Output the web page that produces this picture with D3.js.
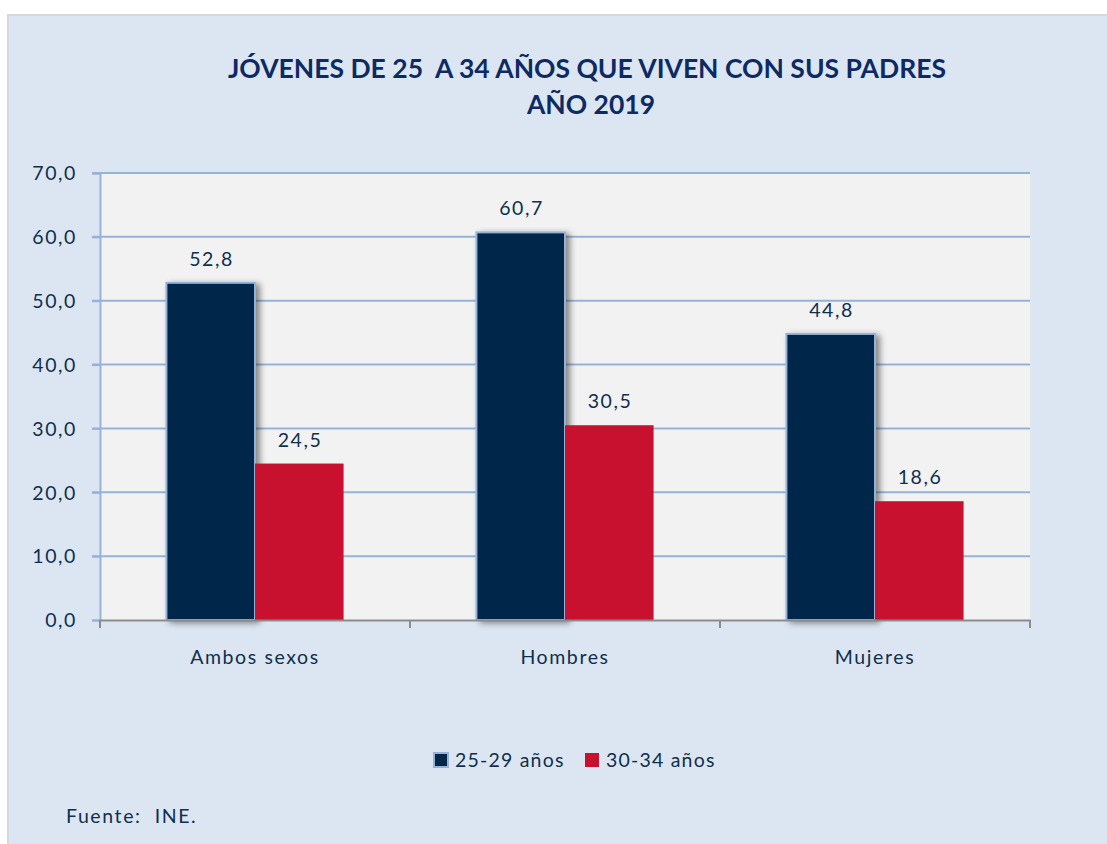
<!DOCTYPE html>
<html>
<head>
<meta charset="utf-8">
<script src="https://cdn.jsdelivr.net/npm/d3@7"></script>
<style>
  body { margin: 0; background: #fff; }
  text { font-family: Lato, "Open Sans", sans-serif; fill: #0f2f4f; white-space: pre; }
</style>
</head>
<body>
<div id="chart"></div>
<script>
// data
const categories = ["Ambos sexos", "Hombres", "Mujeres"];
const seriesNames = ["25-29 años", "30-34 años"];
const values2529 = [52.8, 60.7, 44.8];
const values3034 = [24.5, 30.5, 18.6];
const yTicks = [0, 10, 20, 30, 40, 50, 60, 70];

const width = 1107;
const height = 844;
const colors = ["#012849", "#c8102f"];
const fs = 19.5;
const ls = 1.6;

const svg = d3.select("#chart")
    .append("svg")
    .attr("width", width)
    .attr("height", height);

// shadow for the dark bars
const defs = svg.append("defs");
defs.append("filter")
    .attr("id", "shadow")
    .attr("x", "-20%").attr("y", "-20%")
    .attr("width", "150%").attr("height", "140%")
  .append("feDropShadow")
    .attr("dx", 4).attr("dy", 2)
    .attr("stdDeviation", 3)
    .attr("flood-color", "#000")
    .attr("flood-opacity", 0.45);

// outer chart area
svg.append("rect")
    .attr("x", 8).attr("y", 15)
    .attr("width", width).attr("height", height)
    .attr("fill", "#dce6f2")
    .attr("stroke", "#d9d9d9")
    .attr("stroke-width", 2);

const plot = { left: 100, top: 173, right: 1030, bottom: 620 };

const x0 = d3.scaleBand()
    .domain(categories)
    .range([plot.left, plot.right])
    .paddingInner(0)
    .paddingOuter(0);

// gap width 150% -> bars take 2/3.5 of the band
const barW = x0.bandwidth() / 3.5;
const x1 = d3.scaleBand()
    .domain([0, 1])
    .range([barW * 0.75, barW * 2.75]);

const y = d3.scaleLinear()
    .domain([0, 70])
    .range([plot.bottom, plot.top]);

// plot background
svg.append("rect")
    .attr("x", plot.left).attr("y", plot.top)
    .attr("width", plot.right - plot.left)
    .attr("height", plot.bottom - plot.top)
    .attr("fill", "#f2f2f2");

// gridlines
svg.append("g")
  .selectAll("line")
  .data(yTicks.filter(d => d > 0))
  .join("line")
    .attr("x1", plot.left - 8).attr("x2", plot.right)
    .attr("y1", d => y(d)).attr("y2", d => y(d))
    .attr("stroke", "#95b3d7")
    .attr("stroke-width", 2);

// y axis
const yAxis = svg.append("g")
    .attr("transform", `translate(${plot.left},0)`)
    .call(d3.axisLeft(y)
      .tickValues(yTicks)
      .tickSize(8)
      .tickPadding(15)
      .tickFormat(d => d3.format(".1f")(d).replace(".", ",")));
yAxis.select(".domain").attr("stroke", "#95b3d7").attr("stroke-width", 2);
yAxis.selectAll(".tick line").attr("stroke", "#95b3d7").attr("stroke-width", 2);
yAxis.selectAll(".tick text")
    .attr("font-size", fs)
    .attr("letter-spacing", ls)
    .attr("dy", "0.35em")
    .style("fill", "#0f2f4f");

// bars
const data = categories.map((c, i) => ({ cat: c, vals: [values2529[i], values3034[i]] }));

const groups = svg.append("g")
  .selectAll("g")
  .data(data)
  .join("g")
    .attr("transform", d => `translate(${x0(d.cat)},0)`);

groups.selectAll("rect")
  .data(d => d.vals.map((v, k) => ({ v, k })))
  .join("rect")
    .attr("x", d => x1(d.k))
    .attr("y", d => y(d.v))
    .attr("width", x1.bandwidth())
    .attr("height", d => y(0) - y(d.v))
    .attr("fill", d => colors[d.k])
    .attr("stroke", d => d.k === 0 ? "#95b3d7" : "none")
    .attr("stroke-width", 2)
    .attr("filter", d => d.k === 0 ? "url(#shadow)" : null);

groups.selectAll("text.val")
  .data(d => d.vals.map((v, k) => ({ v, k })))
  .join("text")
    .attr("class", "val")
    .attr("x", d => x1(d.k) + x1.bandwidth() / 2 + ls / 2)
    .attr("y", d => y(d.v) - 17)
    .attr("text-anchor", "middle")
    .attr("font-size", fs)
    .attr("letter-spacing", ls)
    .text(d => d3.format(".1f")(d.v).replace(".", ","));

// x axis
const xAxis = svg.append("g")
    .attr("transform", `translate(0,${plot.bottom})`)
    .call(d3.axisBottom(x0).tickSize(0).tickPadding(30));
xAxis.select(".domain").attr("stroke", "#8c8c8c").attr("stroke-width", 2);
xAxis.selectAll(".tick text")
    .attr("font-size", fs)
    .attr("letter-spacing", ls)
    .style("fill", "#0f2f4f");
xAxis.append("g")
  .selectAll("line")
  .data(categories.map(c => x0(c)).concat([plot.right]))
  .join("line")
    .attr("x1", d => d).attr("x2", d => d)
    .attr("y1", 0).attr("y2", 8)
    .attr("stroke", "#8c8c8c")
    .attr("stroke-width", 2);

// title
const title = svg.append("text")
    .attr("text-anchor", "middle")
    .attr("font-weight", "bold")
    .attr("font-size", 26.5)
    .style("fill", "#0d2a63");
title.append("tspan").attr("x", 587).attr("y", 78).text("JÓVENES DE 25  A 34 AÑOS QUE VIVEN CON SUS PADRES");
title.append("tspan").attr("x", 591).attr("y", 114).text("AÑO 2019");

// legend
const legend = svg.append("g")
  .selectAll("g")
  .data(seriesNames)
  .join("g")
    .attr("transform", (d, i) => `translate(${[434, 585][i]},753)`);
legend.append("rect")
    .attr("width", 14).attr("height", 14)
    .attr("fill", (d, i) => colors[i])
    .attr("stroke", (d, i) => i === 0 ? "#95b3d7" : "none")
    .attr("stroke-width", 2);
legend.append("text")
    .attr("x", 21).attr("y", 14)
    .attr("font-size", fs)
    .attr("letter-spacing", ls - 0.4)
    .text(d => d);

// source
svg.append("text")
    .attr("x", 66).attr("y", 823)
    .attr("font-size", fs)
    .attr("letter-spacing", ls)
    .text("Fuente:  INE.");
</script>
</body>
</html>
